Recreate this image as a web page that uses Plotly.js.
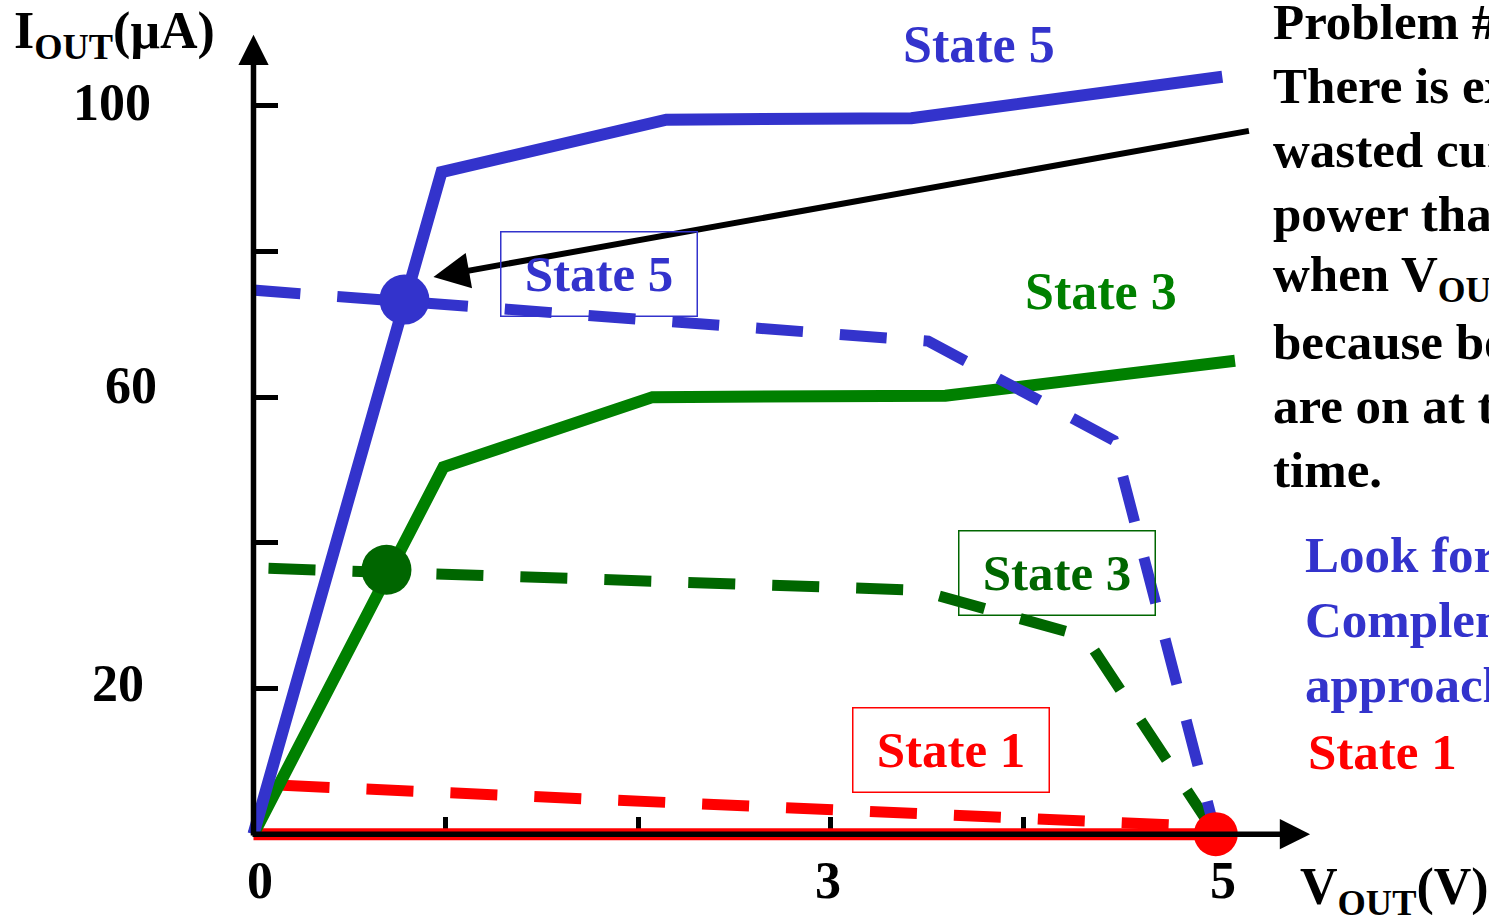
<!DOCTYPE html>
<html>
<head>
<meta charset="utf-8">
<script src="https://cdn.plot.ly/plotly-3.0.1.min.js"></script>
<style>
  html, body { margin: 0; padding: 0; background: #ffffff; overflow: hidden; }
  #chart { width: 1489px; height: 915px; }
</style>
</head>
<body>
<div id="chart"></div>
<script>
// I-V curves of the pull-down (solid) and pull-up (dashed) networks, V_OUT in V, I_OUT in µA

// State 5
const s5DownV = [0, 0.977, 2.145, 3.418, 5.034];
const s5DownI = [0, 90.9, 98.1, 98.3, 104.0];
const s5UpV   = [0, 3.506, 4.468, 5.0];
const s5UpI   = [74.7, 67.7, 54.1, 0];

// State 3
const s3DownV = [0, 0.987, 2.073, 3.595, 5.10];
const s3DownI = [0, 50.4, 60.0, 60.2, 65.0];
const s3UpV   = [0.078, 3.455, 4.322, 5.0];
const s3UpI   = [36.5, 33.5, 27.1, 0];

// State 1
const s1DownV = [0, 5.0];
const s1DownI = [0, 0];
const s1UpV   = [0.151, 5.0];
const s1UpI   = [6.7, 1.0];

// Operating points (where the two curves of a state cross)
const opV = [0.784, 0.691, 5.0];
const opI = [73.4, 36.3, 0];

// Axis ticks
const xTickVals = [0, 1, 2, 3, 4, 5];
const xTickText = ['0', '', '', '3', '', '5'];
const yTickVals = [20, 40, 60, 80, 100];
const yTickText = ['20', '', '60', '', '100'];

// Side notes
const problemLines = ['Problem #1:', 'There is extra', 'wasted current &', 'power than needed',
                      'when V<sub>OUT</sub> is mid-rail', 'because both halves', 'are on at the same', 'time.'];
const hintLines = ['Look for', 'Complementary', 'approach'];

const BLUE = '#3333CC';
const GREEN = '#008000';
const DKGREEN = '#006600';
const RED = '#FF0000';
const SERIF = '"Liberation Serif", "Times New Roman", serif';
const DASH = '47px,37px';

// Plot geometry (pixels)
const FIG_W = 1489, FIG_H = 915;
const X_RANGE = [-0.2, 5.5], Y_RANGE = [-3, 110];
const PX_PER_V = 192.5, PX_PER_UA = 7.28;
const ORIGIN_X = 253, ORIGIN_Y = 834;
const M_L = ORIGIN_X + X_RANGE[0] * PX_PER_V;
const PLOT_W = (X_RANGE[1] - X_RANGE[0]) * PX_PER_V;
const M_R = FIG_W - M_L - PLOT_W;
const M_T = ORIGIN_Y - Y_RANGE[1] * PX_PER_UA;
const PLOT_H = (Y_RANGE[1] - Y_RANGE[0]) * PX_PER_UA;
const M_B = FIG_H - M_T - PLOT_H;

const paperX = px => (px - M_L) / PLOT_W;
const paperY = py => (M_T + PLOT_H - py) / PLOT_H;

function curve(x, y, color, width, dash) {
  return {
    type: 'scatter', mode: 'lines', x: x, y: y,
    line: { color: color, width: width, dash: dash || 'solid' },
    hoverinfo: 'skip', cliponaxis: false, showlegend: false
  };
}

const traces = [
  curve(s1DownV, s1DownI, RED, 12),
  curve(s1UpV, s1UpI, RED, 11, DASH),
  curve(s3DownV, s3DownI, GREEN, 12),
  curve(s5DownV, s5DownI, BLUE, 12),
  curve(s3UpV, s3UpI, DKGREEN, 11, DASH),
  curve(s5UpV, s5UpI, BLUE, 11, DASH),
  {
    type: 'scatter', mode: 'markers', x: opV, y: opI,
    marker: { size: [50, 50, 44], color: [BLUE, DKGREEN, RED], opacity: 1, line: { width: 0 } },
    opacity: 1, hoverinfo: 'skip', cliponaxis: false, showlegend: false
  }
];

function font(size, color) {
  return { family: SERIF, size: size, color: color, weight: 'bold' };
}

function label(text, px, py, color, size, xanchor, extra) {
  return Object.assign({
    xref: 'paper', yref: 'paper', x: paperX(px), y: paperY(py),
    xanchor: xanchor || 'center', yanchor: 'middle', showarrow: false,
    text: text, align: 'left', font: font(size, color)
  }, extra || {});
}

function boxed(text, px, py, color) {
  return label(text, px, py, color, 51, 'center', {
    align: 'center', valign: 'middle', width: 195, height: 83,
    bordercolor: color, borderwidth: 1.5, borderpad: 0
  });
}

function arrow(x, y, ax, ay, width, size) {
  return {
    xref: 'x', yref: 'y', axref: 'x', ayref: 'y',
    x: x, y: y, ax: ax, ay: ay, text: '', showarrow: true,
    arrowhead: 2, arrowsize: size, arrowwidth: width, arrowcolor: '#000', standoff: 0
  };
}

// Tick labels, each placed by hand next to its tick
const xLabelNudge = [7, 0, 0, -3, 0, 7];
const yLabelGap = [108, 0, 95, 0, 101];
const yLabelLift = [5, 0, 12, 0, 3];

const tickLabels = [];
xTickVals.forEach((v, i) => {
  if (!xTickText[i]) return;
  tickLabels.push({
    xref: 'x', yref: 'paper', x: v, y: paperY(880), xshift: xLabelNudge[i],
    xanchor: 'center', yanchor: 'middle', showarrow: false,
    text: xTickText[i], font: font(52, '#000')
  });
});
yTickVals.forEach((v, i) => {
  if (!yTickText[i]) return;
  tickLabels.push({
    xref: 'paper', yref: 'y', x: paperX(ORIGIN_X - yLabelGap[i]), y: v, yshift: yLabelLift[i],
    xanchor: 'right', yanchor: 'middle', showarrow: false,
    text: yTickText[i], font: font(52, '#000')
  });
});

const noteLabels = [];
problemLines.forEach((t, i) => noteLabels.push(label(t, 1271, 22 + 64 * i, '#000', 51, 'left')));
hintLines.forEach((t, i) => noteLabels.push(label(t, 1303, 555 + 65 * i, BLUE, 51, 'left')));
noteLabels.push(label('State 1', 1306, 752, RED, 51, 'left'));

const annotations = [
  // axes drawn as arrows
  arrow(5.49, 0, -0.013, 0, 5.5, 1.1),
  arrow(0, 109.75, 0, -0.4, 5.5, 1.1),
  // pointer to the State 5 operating point
  arrow(0.935, 76.5, 5.18, 96.6, 6, 1.2),

  label('I<sub>OUT</sub>(μA)', 11, 35, '#000', 52, 'left'),
  label('V<sub>OUT</sub>(V)', 1298, 890, '#000', 52, 'left'),

  label('State 5', 979, 45, BLUE, 52),
  label('State 3', 1101, 292, GREEN, 52),
  boxed('State 5', 598.5, 274.5, BLUE),
  boxed('State 3', 1056.5, 572.5, DKGREEN),
  boxed('State 1', 950.5, 749.5, RED)
].concat(tickLabels, noteLabels);

const layout = {
  width: FIG_W, height: FIG_H,
  margin: { l: M_L, r: M_R, t: M_T, b: M_B, pad: 0 },
  paper_bgcolor: '#ffffff', plot_bgcolor: '#ffffff',
  showlegend: false,
  xaxis: {
    range: X_RANGE, anchor: 'free', position: -Y_RANGE[0] / (Y_RANGE[1] - Y_RANGE[0]),
    showgrid: false, zeroline: false, showline: false, showticklabels: false,
    ticks: 'inside', ticklen: 17, tickwidth: 5, tickcolor: '#000',
    tickmode: 'array', tickvals: xTickVals,
    layer: 'below traces', fixedrange: true
  },
  yaxis: {
    range: Y_RANGE, anchor: 'free', position: -X_RANGE[0] / (X_RANGE[1] - X_RANGE[0]),
    showgrid: false, zeroline: false, showline: false, showticklabels: false,
    ticks: 'inside', ticklen: 24, tickwidth: 5, tickcolor: '#000',
    tickmode: 'array', tickvals: yTickVals,
    layer: 'below traces', fixedrange: true
  },
  annotations: annotations
};

Plotly.newPlot('chart', traces, layout, { staticPlot: true, displayModeBar: false });
</script>
</body>
</html>
